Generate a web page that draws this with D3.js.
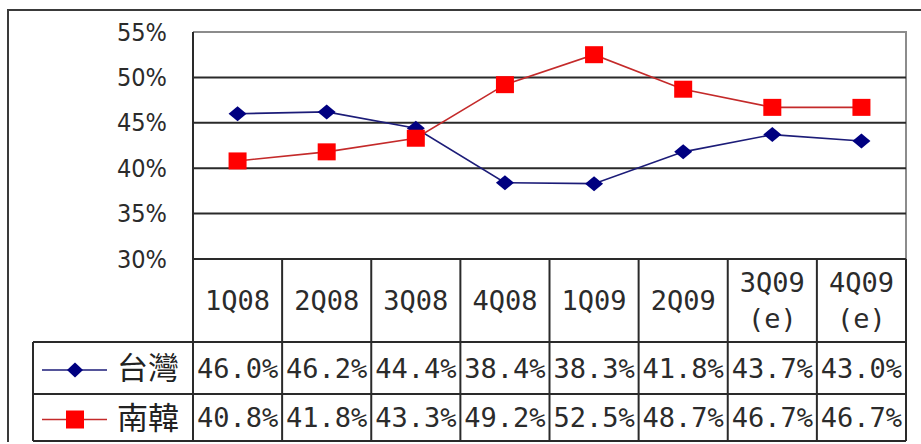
<!DOCTYPE html>
<html>
<head>
<meta charset="utf-8">
<script src="https://cdn.jsdelivr.net/npm/d3@7/dist/d3.min.js"></script>
<style>
  html, body { margin: 0; padding: 0; background: #fff; }
  svg { display: block; }
</style>
</head>
<body>
<svg id="chart" width="921" height="444"></svg>
<script>
// Quarterly share, Taiwan vs South Korea
const categories = ["1Q08", "2Q08", "3Q08", "4Q08", "1Q09", "2Q09", "3Q09 (e)", "4Q09 (e)"];
const taiwan = [46.0, 46.2, 44.4, 38.4, 38.3, 41.8, 43.7, 43.0];
const korea = [40.8, 41.8, 43.3, 49.2, 52.5, 48.7, 46.7, 46.7];
const seriesNames = ["台灣", "南韓"];
const yTicks = [30, 35, 40, 45, 50, 55];

const series = [
  { name: seriesNames[0], values: taiwan, color: "#000080", line: "#1c1c78", marker: "diamond" },
  { name: seriesNames[1], values: korea, color: "#ff0000", line: "#c42a2a", marker: "square" }
];

const svg = d3.select("#chart");
const plot = { left: 193, right: 906, top: 32, bottom: 259 };
const table = { left: 33, headerBottom: 342, rowBottom: 394, bottom: 441 };

const x = d3.scaleBand().domain(categories).range([plot.left, plot.right]);
const y = d3.scaleLinear().domain([30, 55]).range([plot.bottom, plot.top]);

const gridColor = "#2a2a2a";
const textColor = "#2b2b2b";

// outer frame
svg.append("path")
  .attr("d", "M8,442 L8,10 L921,10")
  .attr("fill", "none").attr("stroke", "#3a3a3a").attr("stroke-width", 2);

// plot frame: grey top and right edges
svg.append("path")
  .attr("d", `M${plot.left},${plot.top} L${plot.right},${plot.top} L${plot.right},${table.bottom}`)
  .attr("fill", "none").attr("stroke", "#8c8c8c").attr("stroke-width", 2);

// gridlines
svg.append("g")
  .selectAll("line")
  .data(yTicks.filter(t => t > 30 && t < 55))
  .join("line")
  .attr("x1", plot.left).attr("x2", plot.right)
  .attr("y1", d => y(d)).attr("y2", d => y(d))
  .attr("stroke", gridColor).attr("stroke-width", 2);

// y axis labels
const yAxis = d3.axisLeft(y).tickValues(yTicks).tickFormat(d => d + "%").tickSize(0).tickPadding(26);
const ya = svg.append("g").attr("transform", `translate(${plot.left},0)`).call(yAxis);
ya.select(".domain").remove();
ya.selectAll("text")
  .attr("font-family", "'DejaVu Sans Condensed', 'DejaVu Sans', sans-serif")
  .attr("font-size", 25)
  .attr("fill", textColor);

// data table grid
const tg = svg.append("g").attr("stroke", gridColor).attr("stroke-width", 2).attr("fill", "none");
tg.append("line").attr("x1", plot.left).attr("x2", plot.right).attr("y1", plot.bottom).attr("y2", plot.bottom);
tg.append("line").attr("x1", table.left).attr("x2", plot.right).attr("y1", table.headerBottom).attr("y2", table.headerBottom);
tg.append("line").attr("x1", table.left).attr("x2", plot.right).attr("y1", table.rowBottom).attr("y2", table.rowBottom);
tg.append("line").attr("x1", table.left).attr("x2", plot.right).attr("y1", table.bottom).attr("y2", table.bottom);
tg.append("line").attr("x1", table.left).attr("x2", table.left).attr("y1", table.headerBottom).attr("y2", table.bottom);
tg.append("line").attr("x1", plot.left).attr("x2", plot.left).attr("y1", plot.top).attr("y2", table.bottom);
tg.selectAll("line.col")
  .data(categories)
  .join("line").attr("class", "col")
  .attr("x1", d => x(d) + x.bandwidth()).attr("x2", d => x(d) + x.bandwidth())
  .attr("y1", plot.bottom).attr("y2", table.bottom);

const monoFont = "'DejaVu Sans Mono', 'Liberation Mono', monospace";

// header labels
const header = svg.append("g")
  .attr("font-family", monoFont).attr("font-size", 27).attr("fill", textColor)
  .attr("text-anchor", "middle");
categories.forEach(c => {
  const lines = c.split(" ");
  const cx = x(c) + x.bandwidth() / 2;
  const mid = (plot.bottom + table.headerBottom) / 2;
  lines.forEach((ln, i) => {
    header.append("text")
      .attr("x", cx)
      .attr("y", mid + (i - (lines.length - 1) / 2) * 36)
      .attr("dy", "0.36em")
      .text(ln);
  });
});

// value rows
const rowCenters = [(table.headerBottom + table.rowBottom) / 2, (table.rowBottom + table.bottom) / 2];
const marker = (type, size) => type === "diamond"
  ? d3.symbol().type(d3.symbolDiamond2 || d3.symbolDiamond)
  : null;

function drawMarker(g, s, cx, cy, w, h) {
  if (s.marker === "diamond") {
    g.append("path")
      .attr("d", `M${cx},${cy - h} L${cx + w},${cy} L${cx},${cy + h} L${cx - w},${cy} Z`)
      .attr("fill", s.color);
  } else {
    g.append("rect")
      .attr("x", cx - w).attr("y", cy - h).attr("width", 2 * w).attr("height", 2 * h)
      .attr("fill", s.color);
  }
}

series.forEach((s, i) => {
  const cy = rowCenters[i];
  const row = svg.append("g");
  // legend key
  row.append("line").attr("x1", 42).attr("x2", 107).attr("y1", cy + 2).attr("y2", cy + 2)
    .attr("stroke", s.line).attr("stroke-width", 1.5);
  drawMarker(row, s, 75, cy + 2, s.marker === "diamond" ? 8 : 9, s.marker === "diamond" ? 7.5 : 9);
  row.append("text")
    .attr("x", 117).attr("y", cy).attr("dy", "0.36em")
    .attr("font-family", "'Noto Sans CJK TC', 'Noto Sans CJK SC', sans-serif")
    .attr("font-size", 31).attr("fill", "#222")
    .text(s.name);
  row.selectAll("text.v")
    .data(s.values)
    .join("text").attr("class", "v")
    .attr("x", (d, j) => x(categories[j]) + x.bandwidth() / 2)
    .attr("y", cy).attr("dy", "0.36em")
    .attr("text-anchor", "middle")
    .attr("font-family", monoFont).attr("font-size", 27).attr("fill", textColor)
    .text(d => d.toFixed(1) + "%");
});

// series lines and markers
const line = d3.line()
  .x((d, j) => x(categories[j]) + x.bandwidth() / 2)
  .y(d => y(d));

series.forEach(s => {
  svg.append("path")
    .datum(s.values)
    .attr("d", line)
    .attr("fill", "none")
    .attr("stroke", s.line)
    .attr("stroke-width", 1.6);
  const g = svg.append("g");
  s.values.forEach((v, j) => {
    drawMarker(g, s, x(categories[j]) + x.bandwidth() / 2, y(v),
      s.marker === "diamond" ? 9 : 9, s.marker === "diamond" ? 7.5 : 8.5);
  });
});
</script>
</body>
</html>
